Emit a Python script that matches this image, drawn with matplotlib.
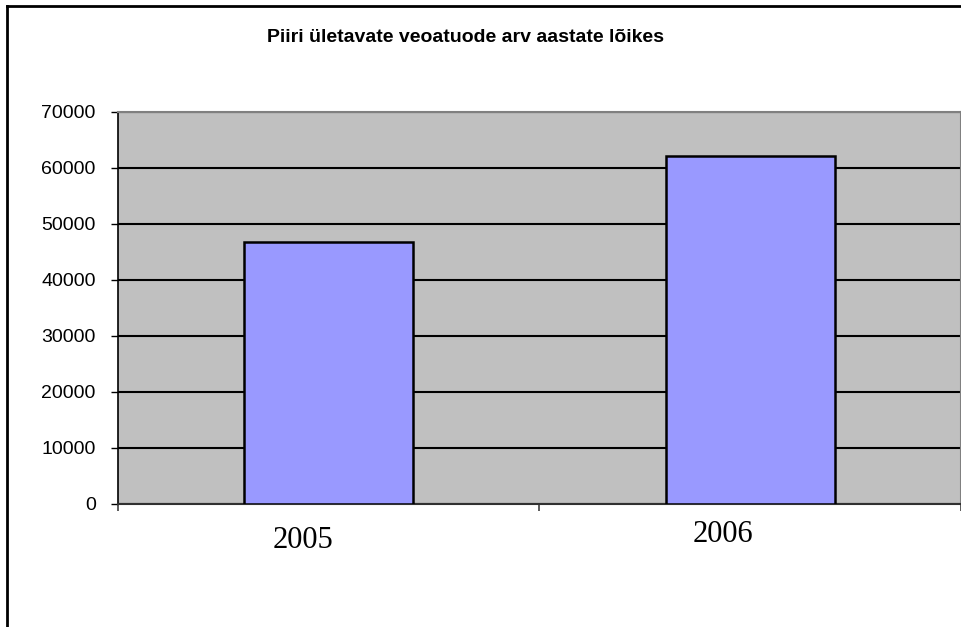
import matplotlib.pyplot as plt
from matplotlib.lines import Line2D

# Border crossing lorries per year
years = ["2005", "2006"]
counts = [46700, 62100]

title = "Piiri ületavate veoatuode arv aastate lõikes"
y_ticks = [0, 10000, 20000, 30000, 40000, 50000, 60000, 70000]

W, H = 962, 627
fig = plt.figure(figsize=(W / 100, H / 100), dpi=100)
fig.patch.set_facecolor("white")

# outer frame (only left and top edges are visible)
fig.add_artist(Line2D([7 / W, 7 / W], [0, 1 - 6 / H], transform=fig.transFigure,
                      color="black", lw=2))
fig.add_artist(Line2D([7 / W, 1], [1 - 6 / H, 1 - 6 / H], transform=fig.transFigure,
                      color="black", lw=2))

ax = fig.add_axes([118 / W, (H - 504) / H, 843 / W, 392 / H])
ax.set_facecolor("#C0C0C0")

x = list(range(len(years)))
ax.bar(x, counts, width=0.4, color="#9999FF", edgecolor="black", linewidth=1.8, zorder=3)

ax.set_xlim(-0.5, len(years) - 0.5)
ax.set_ylim(0, 70000)
ax.set_yticks(y_ticks)
ax.set_yticklabels([str(v) for v in y_ticks], fontsize=14, family="Liberation Sans")
ax.yaxis.grid(True, color="black", linewidth=1.5, zorder=1)
ax.set_axisbelow(True)

ax.set_xticks([-0.5, 0.5, 1.5])
ax.set_xticklabels([])
ax.tick_params(axis="y", direction="out", length=5, width=1, color="black", pad=11)
ax.tick_params(axis="x", direction="out", length=5, width=1.2, color="#404040")

for side in ("top", "right"):
    ax.spines[side].set_color("#808080")
    ax.spines[side].set_linewidth(1.5)
ax.spines["left"].set_color("black")
ax.spines["left"].set_linewidth(1.2)
ax.spines["bottom"].set_color("#303030")
ax.spines["bottom"].set_linewidth(1.5)

# year labels sit a little left of the bars, the second one slightly higher
label_dx = [-0.06, -0.064]
label_dy = [-36, -31]
for i, yr in enumerate(years):
    ax.annotate(yr, xy=(x[i] + label_dx[i], 0), xycoords=("data", "axes fraction"),
                xytext=(0, label_dy[i]), textcoords="offset pixels",
                ha="center", va="center", fontsize=22, family="Liberation Serif")

fig.text(466 / W, 1 - 37 / H, title, ha="center", va="center",
         fontsize=14, fontweight="bold", family="Liberation Sans")

fig.savefig("out.png", dpi=100)
